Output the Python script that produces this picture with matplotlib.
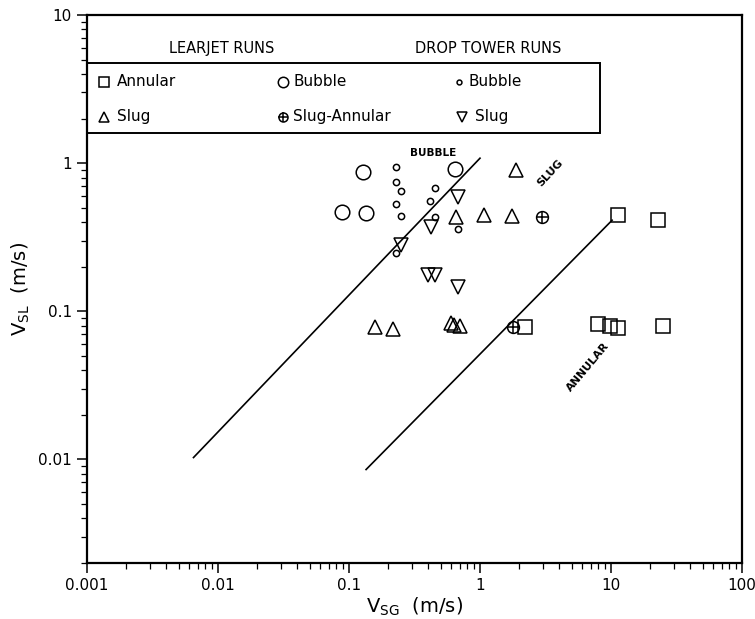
import numpy as np
import matplotlib
matplotlib.use("Agg")
import matplotlib.pyplot as plt
from matplotlib.patches import Rectangle

# ---------------- data ----------------
# Learjet runs
lj_annular_x = [11.3, 22.9, 2.21, 7.96, 9.82, 11.3, 24.9]
lj_annular_y = [0.445, 0.412, 0.078, 0.0818, 0.0795, 0.0772, 0.0795]

lj_bubble_x = [0.0886, 0.128, 0.135, 0.644]
lj_bubble_y = [0.467, 0.869, 0.46, 0.91]

lj_slug_x = [0.656, 1.073, 1.755, 1.88, 0.158, 0.217, 0.601, 0.633, 0.703]
lj_slug_y = [0.43, 0.445, 0.438, 0.897, 0.078, 0.0757, 0.0834, 0.081, 0.0795]

lj_slugann_x = [2.97, 1.79]
lj_slugann_y = [0.43, 0.078]

# Drop tower runs
dt_bubble_x = [0.229, 0.229, 0.249, 0.453, 0.415, 0.229, 0.249, 0.453, 0.679, 0.229]
dt_bubble_y = [0.94, 0.744, 0.647, 0.68, 0.553, 0.53, 0.438, 0.43, 0.358, 0.2466]

dt_slug_x = [0.679, 0.422, 0.249, 0.401, 0.453, 0.679]
dt_slug_y = [0.589, 0.37, 0.279, 0.175, 0.176, 0.145]

# transition boundaries
bubble_line_x = [0.0065, 1.0]
bubble_line_y = [0.0103, 1.08]
annular_line_x = [0.135, 10.2]
annular_line_y = [0.00855, 0.412]

x_ticks = [0.001, 0.01, 0.1, 1, 10, 100]
x_tick_labels = ["0.001", "0.01", "0.1", "1", "10", "100"]
y_ticks = [0.01, 0.1, 1, 10]
y_tick_labels = ["0.01", "0.1", "1", "10"]

# ---------------- figure ----------------
fig = plt.figure(figsize=(7.55, 6.19), dpi=100)
ax = fig.add_axes([87 / 755, 1 - 563 / 619, 655 / 755, 548 / 619])
ax.set_xscale("log")
ax.set_yscale("log")
ax.set_xlim(0.001, 100)
ax.set_ylim(0.002, 10)

k = "black"
ax.plot(bubble_line_x, bubble_line_y, color=k, lw=1.2)
ax.plot(annular_line_x, annular_line_y, color=k, lw=1.2)

mk = dict(linestyle="none", markerfacecolor="none", markeredgecolor=k, markeredgewidth=1.1)
ax.plot(lj_annular_x, lj_annular_y, marker="s", markersize=9.5, **mk)
ax.plot(lj_bubble_x, lj_bubble_y, marker="o", markersize=10.5, **mk)
ax.plot(lj_slug_x, lj_slug_y, marker="^", markersize=9.5, **mk)
ax.plot(lj_slugann_x, lj_slugann_y, marker="o", markersize=8.5, **mk)
ax.plot(lj_slugann_x, lj_slugann_y, marker="+", markersize=8.5, **mk)
ax.plot(dt_bubble_x, dt_bubble_y, marker="o", markersize=4.5, **mk)
ax.plot(dt_slug_x, dt_slug_y, marker="v", markersize=9.5, **mk)

# regime labels
ax.text(0.437, 1.17, "BUBBLE", fontsize=7.5, fontweight="bold", ha="center", va="center")
ax.text(3.42, 0.856, "SLUG", fontsize=8, fontweight="bold", ha="center", va="center", rotation=47)
ax.text(6.67, 0.042, "ANNULAR", fontsize=8, fontweight="bold", ha="center", va="center", rotation=50)

# axes styling
for s in ax.spines.values():
    s.set_linewidth(1.6)
ax.set_xticks(x_ticks)
ax.set_xticklabels(x_tick_labels)
ax.set_yticks(y_ticks)
ax.set_yticklabels(y_tick_labels)
ax.tick_params(which="major", direction="out", length=7, width=1.1, labelsize=11, pad=4)
ax.tick_params(which="minor", direction="out", length=4, width=0.9)
ax.set_xlabel(r"$\mathregular{V_{SG}}$  (m/s)", fontsize=14, labelpad=2)
ax.set_ylabel(r"$\mathregular{V_{SL}}$  (m/s)", fontsize=14, labelpad=4)

# hand-made legend block in axes fraction coordinates
tr = ax.transAxes
ax.add_patch(Rectangle((0, 0.785), 0.783, 0.127, transform=tr, fill=False,
                       edgecolor=k, lw=1.4, clip_on=False))
ax.text(0.206, 0.938, "LEARJET RUNS", transform=tr, fontsize=10.5, ha="center", va="center")
ax.text(0.612, 0.938, "DROP TOWER RUNS", transform=tr, fontsize=10.5, ha="center", va="center")

row1, row2 = 0.878, 0.814
leg = dict(transform=tr, clip_on=False, **mk)
ax.plot([0.026], [row1], marker="s", markersize=7, **leg)
ax.plot([0.026], [row2], marker="^", markersize=7, **leg)
ax.plot([0.299], [row1], marker="o", markersize=7.5, **leg)
ax.plot([0.299], [row2], marker="o", markersize=6.5, **leg)
ax.plot([0.299], [row2], marker="+", markersize=6.5, **leg)
ax.plot([0.568], [row1], marker="o", markersize=3.5, **leg)
ax.plot([0.572], [row2], marker="v", markersize=7, **leg)

txt = dict(transform=tr, fontsize=11, ha="left", va="center")
ax.text(0.046, row1, "Annular", **txt)
ax.text(0.046, row2, "Slug", **txt)
ax.text(0.315, row1, "Bubble", **txt)
ax.text(0.315, row2, "Slug-Annular", **txt)
ax.text(0.583, row1, "Bubble", **txt)
ax.text(0.592, row2, "Slug", **txt)

fig.savefig("out.png", dpi=100)
